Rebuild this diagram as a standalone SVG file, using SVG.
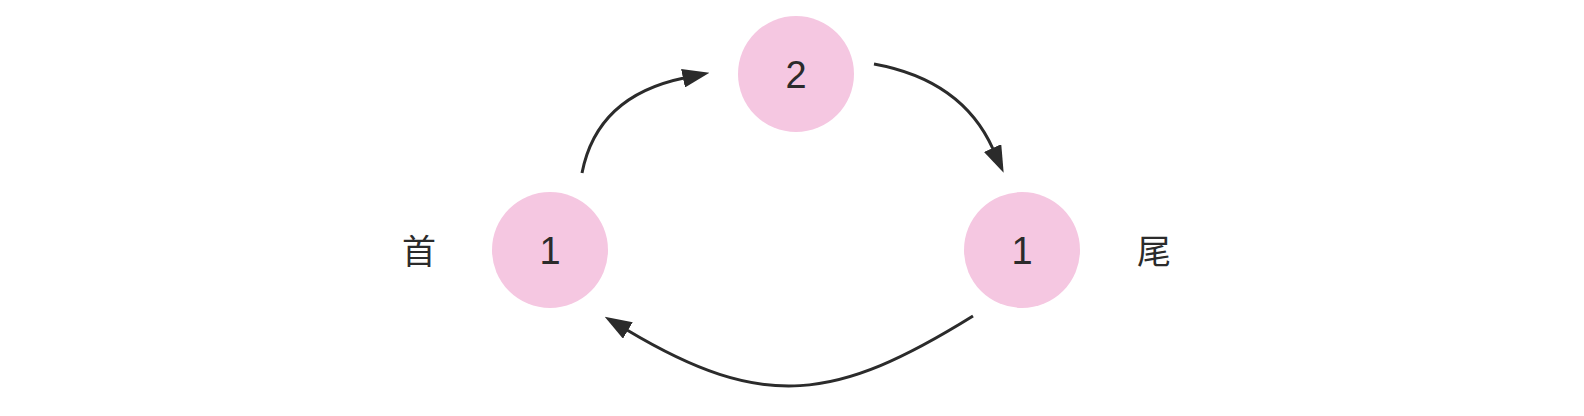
<svg xmlns="http://www.w3.org/2000/svg" width="1584" height="416" viewBox="0 0 1584 416">
<style>
.node{fill:#f5c7e1;}
.num{font-family:"Liberation Sans","DejaVu Sans",sans-serif;font-size:38px;fill:#2b2b2b;text-anchor:middle;dominant-baseline:central;}
.lbl{font-family:"Noto Sans CJK SC",sans-serif;font-size:34px;fill:#2b2b2b;text-anchor:middle;dominant-baseline:central;}
.edge{fill:none;stroke:#2b2b2b;stroke-width:3;stroke-linecap:butt;}
</style>
<defs>
<marker id="ah" markerUnits="userSpaceOnUse" viewBox="0 0 27 19" refX="1" refY="9.5" markerWidth="27" markerHeight="19" orient="auto">
<path d="M0,0 L27,9.5 L0,19 Z" fill="#2b2b2b"/>
</marker>
</defs>
<rect width="1584" height="416" fill="#ffffff"/>
<g id="connectors">
<path class="edge" d="M582,173 Q597,96 684,78" marker-end="url(#ah)"/>
<path class="edge" d="M874,64 Q962,80 993,149" marker-end="url(#ah)"/>
<path class="edge" d="M973,316 C836,401 764,412 627,330" marker-end="url(#ah)"/>
</g>
<g id="node-head">
<circle class="node" cx="550" cy="250" r="58"/>
<text class="num" x="550" y="251">1</text>
</g>
<g id="node-mid">
<circle class="node" cx="796" cy="74" r="58"/>
<text class="num" x="796" y="75">2</text>
</g>
<g id="node-tail">
<circle class="node" cx="1022" cy="250" r="58"/>
<text class="num" x="1022" y="251">1</text>
</g>
<g id="label-head"><text class="lbl" x="419" y="249">首</text></g>
<g id="label-tail"><text class="lbl" x="1154" y="249">尾</text></g>
</svg>
